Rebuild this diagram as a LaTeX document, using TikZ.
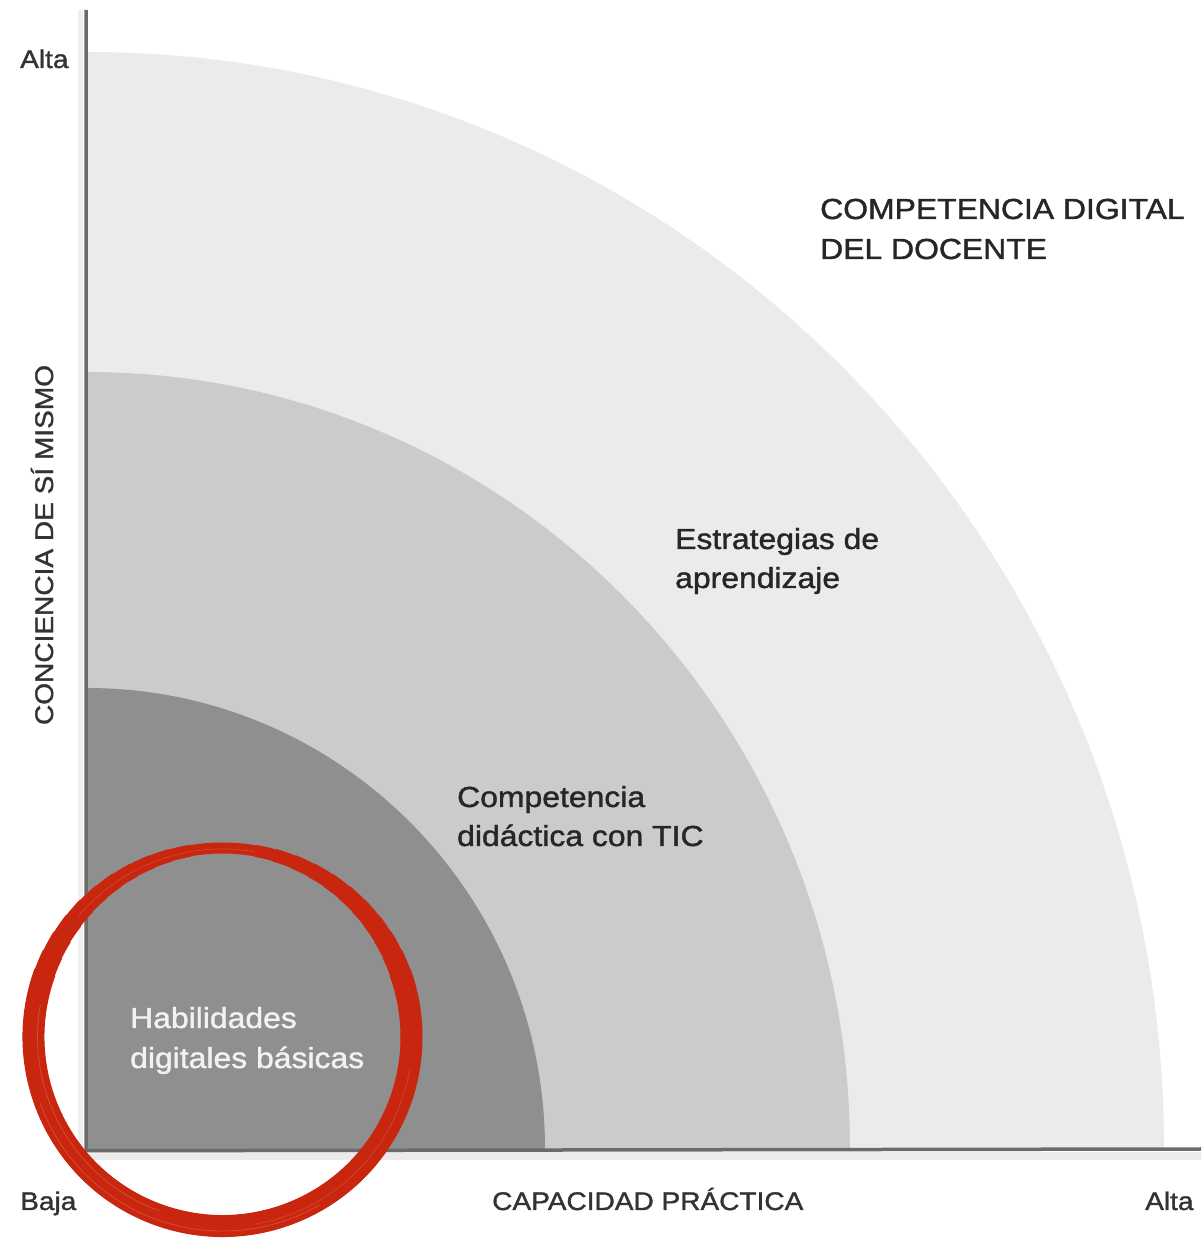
\documentclass[tikz,border=0pt]{standalone}
\usepackage{fontspec}
\setmainfont{Liberation Sans}[FakeStretch=1.1,FakeBold=1.3]
\begin{document}
\begin{tikzpicture}[x=1pt,y=1pt,
  lbl/.style={anchor=base west,inner sep=0pt,text=black!85,font=\fontsize{29}{34}\selectfont},
  axlbl/.style={anchor=base west,inner sep=0pt,text=black!80,font=\fontsize{25.5}{30}\selectfont},
  axisline/.style={draw=black!58,line width=3.5pt},
  brush/.style={draw=brushred},
]
\definecolor{outerg}{HTML}{EBEBEB}
\definecolor{midg}{HTML}{CBCBCB}
\definecolor{innerg}{HTML}{8F8F8F}
\definecolor{brushred}{HTML}{C8260F}
\definecolor{brushlight}{HTML}{DE5A40}
\useasboundingbox (0,0) rectangle (1201,1241);
\fill[white] (0,0) rectangle (1201,1241);
\coordinate (O) at (87,92);
% quarter discs
\fill[outerg] (O) -- ++(1077pt,0) arc[start angle=0,end angle=90,x radius=1077pt,y radius=1097pt] -- cycle;
\fill[midg] (O) -- ++(763pt,0) arc[start angle=0,end angle=90,x radius=763pt,y radius=777pt] -- cycle;
\fill[innerg] (O) -- ++(458pt,0) arc[start angle=0,end angle=90,x radius=458pt,y radius=461pt] -- cycle;
% axis shadows
\draw[black!8,line width=8pt] (90,85) -- (1201,85);
\draw[black!6,line width=5pt] (80,92) -- (80,1231);
% axes
\coordinate (ytop) at (86,1231);
\coordinate (xend) at (1201,92);
\draw[axisline] (ytop) -- (86,90.25) -- (xend);
% labels
\node[axlbl] (altay) at (20,1173) {Alta};
\node[axlbl] (baja) at (20,31) {Baja};
\node[axlbl] (capx) at (492,31) {CAPACIDAD PRÁCTICA};
\node[axlbl] (altax) at (1145,31) {Alta};
\node[axlbl,anchor=base,rotate=90] (concy) at (53,696) {CONCIENCIA DE SÍ MISMO};
\node[lbl] (comp1) at (820,1022) {COMPETENCIA DIGITAL};
\node[lbl] (comp2) at (820,982) {DEL DOCENTE};
\node[lbl] (estr1) at (675,692) {Estrategias de};
\node[lbl] (estr2) at (675,653) {aprendizaje};
\node[lbl] (did1) at (457,434) {Competencia};
\node[lbl] (did2) at (457,395) {didáctica con TIC};
\node[lbl,text=white!95!black] (hab1) at (130,213) {Habilidades};
\node[lbl,text=white!95!black] (hab2) at (130,173) {digitales básicas};
% red brush circle
\coordinate (C) at (222.5,204);
\draw[brush,line width=11pt] (C) ellipse[x radius=189pt,y radius=189pt];
\foreach \w in {12,...,22}{
  \pgfmathsetmacro{\sa}{100+(\w-12)*6}
  \pgfmathsetmacro{\ea}{440-(\w-12)*6}
  \draw[brush,line width=\w pt] (C) ++(\sa:189pt and 189pt) arc[start angle=\sa,end angle=\ea,x radius=189pt,y radius=189pt];
}
\draw[brush,line width=4pt] (C) ++(5:192pt and 192pt) arc[start angle=5,end angle=60,x radius=192pt,y radius=192pt];
% brush streaks
\draw[brushlight,line width=0.8pt,opacity=0.7] (C) ++(170:185pt and 185pt) arc[start angle=170,end angle=250,x radius=185pt,y radius=185pt];
\draw[brushlight,line width=0.8pt,opacity=0.7] (C) ++(200:194pt and 194pt) arc[start angle=200,end angle=300,x radius=194pt,y radius=194pt];
\draw[brushlight,line width=0.7pt,opacity=0.6] (C) ++(280:190pt and 190pt) arc[start angle=280,end angle=350,x radius=190pt,y radius=190pt];
\draw[brushlight,line width=0.7pt,opacity=0.6] (C) ++(80:188pt and 188pt) arc[start angle=80,end angle=140,x radius=188pt,y radius=188pt];
\end{tikzpicture}
\end{document}
